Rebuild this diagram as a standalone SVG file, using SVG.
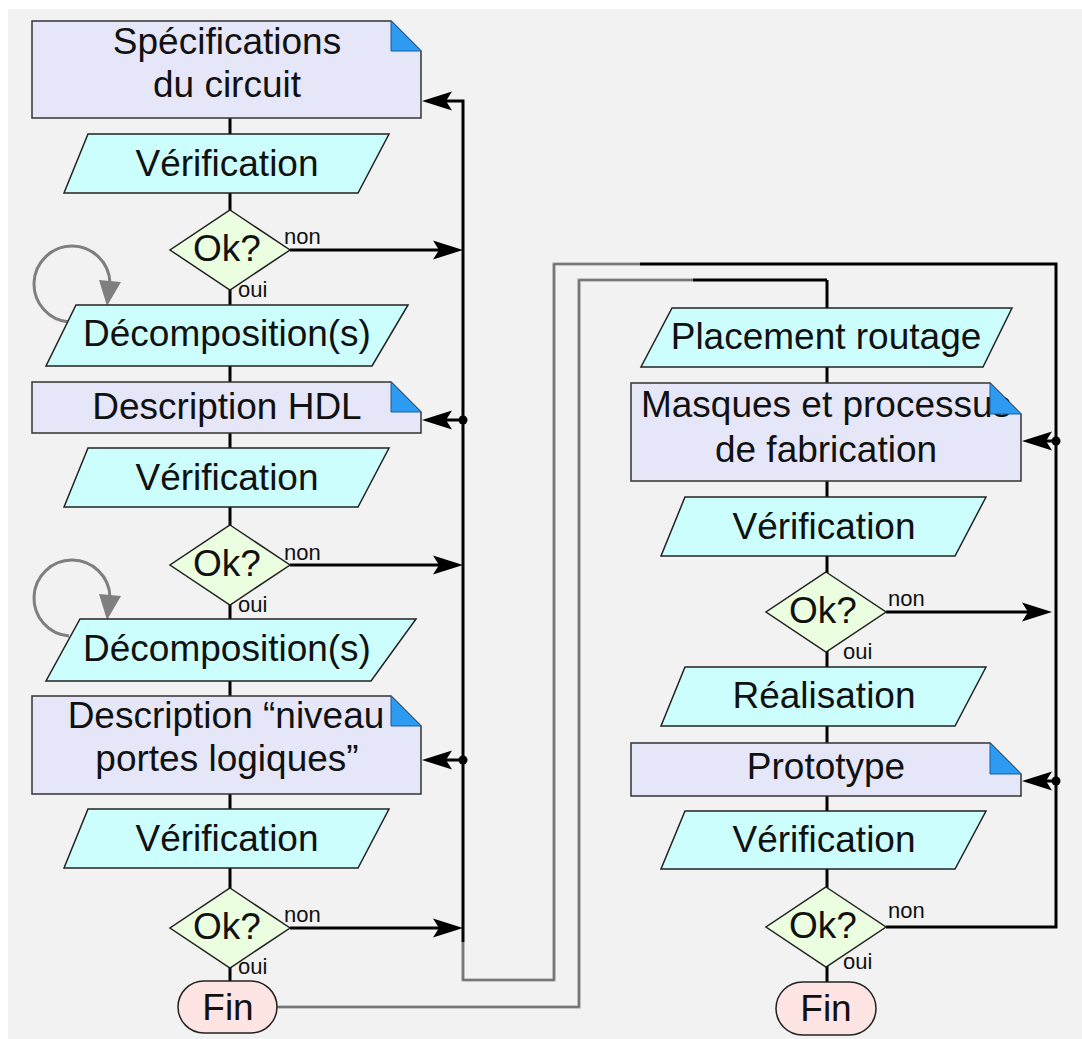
<svg xmlns="http://www.w3.org/2000/svg" xmlns:xlink="http://www.w3.org/1999/xlink" width="1082" height="1039" viewBox="0 0 1082 1039">
  <defs>
    <style>
      .doc { fill:#e5e7f9; stroke:#333; stroke-width:1.5; }
      .fold { fill:#2d9bf2; stroke:#1b5d9c; stroke-width:1; }
      .io { fill:#ccfefe; stroke:#222; stroke-width:1.5; }
      .dec { fill:#ebfedf; stroke:#222; stroke-width:1.5; }
      .term { fill:#ffe4e4; stroke:#222; stroke-width:1.5; }
      .t { font-family:"Liberation Sans", Arial, sans-serif; font-size:37px; text-anchor:middle; fill:#111; }
      .s { font-family:"Liberation Sans", Arial, sans-serif; font-size:22px; fill:#111; }
      .wire { fill:none; stroke:#000; stroke-width:3; }
      .dbl-o { fill:none; stroke:#9a9a9a; stroke-width:3.2; }
      .dbl-i { fill:none; stroke:#555; stroke-width:1; }
      .loop { fill:none; stroke:#7f7f7f; stroke-width:3; }
      .ah { fill:#000; }
      .dot { fill:#000; }
    </style>
    <path id="ah" class="ah" d="M0,0 L-30,-9.5 L-24,0 L-30,9.5 Z"/>
  </defs>

  <!-- canvas -->
  <rect x="8" y="9" width="1074" height="1030" fill="#f2f2f2"/>

  <!-- connectors -->
  <g id="connectors">
    <!-- main spines -->
    <path class="wire" d="M230,118 V981"/>
    <path class="wire" d="M827,280 V982"/>

    <!-- left feedback bus -->
    <path class="wire" d="M463,942 V101 H440"/>
    <use href="#ah" transform="translate(422,101) rotate(180)"/>
    <path class="wire" d="M290,250 H440"/>
    <use href="#ah" transform="translate(463,250)"/>
    <path class="wire" d="M290,565 H440"/>
    <use href="#ah" transform="translate(463,565)"/>
    <path class="wire" d="M290,928 H440"/>
    <use href="#ah" transform="translate(463,928)"/>
    <path class="wire" d="M463,420 H444"/>
    <use href="#ah" transform="translate(422,420) rotate(180)"/>
    <circle class="dot" cx="463" cy="420" r="4.5"/>
    <path class="wire" d="M463,760 H444"/>
    <use href="#ah" transform="translate(422,760) rotate(180)"/>
    <circle class="dot" cx="463" cy="760" r="4.5"/>

    <!-- crossover links (double lines) -->
    <path class="dbl-o" d="M463,942 V980 H554 V264 H640"/>
    <path class="dbl-i" d="M463,942 V980 H554 V264 H640"/>
    <path class="dbl-o" d="M277,1007 H579 V280 H693"/>
    <path class="dbl-i" d="M277,1007 H579 V280 H693"/>
    <path class="wire" d="M640,264 H1056 V927 H886"/>
    <path class="wire" d="M693,280 H827"/>

    <!-- right feedback bus -->
    <path class="wire" d="M886,612 H1030"/>
    <use href="#ah" transform="translate(1052,612)"/>
    <path class="wire" d="M1056,441 H1044"/>
    <use href="#ah" transform="translate(1022,441) rotate(180)"/>
    <circle class="dot" cx="1056" cy="441" r="4.5"/>
    <path class="wire" d="M1056,781 H1044"/>
    <use href="#ah" transform="translate(1022,781) rotate(180)"/>
    <circle class="dot" cx="1056" cy="781" r="4.5"/>

    <!-- refinement loops -->
    <path class="loop" d="M69,322 A38,38 0 1 1 110,283"/>
    <path fill="#7f7f7f" d="M99,280 L121,282 L107,306 Z"/>
    <path class="loop" d="M69,636 A38,38 0 1 1 110,597"/>
    <path fill="#7f7f7f" d="M99,594 L121,596 L107,620 Z"/>
  </g>

  <!-- left column -->
  <g id="spec">
    <path class="doc" d="M32,21 H391 L421,51 V118 H32 Z"/>
    <text class="t" x="227" y="54">Spécifications</text>
    <text class="t" x="227" y="97">du circuit</text>
    <path class="fold" d="M391,21 L421,51 H391 Z"/>
  </g>
  <g id="verif1">
    <path class="io" d="M88,134 H389 L358,193 H64 Z"/>
    <text class="t" x="227" y="176">Vérification</text>
  </g>
  <g id="ok1">
    <path class="dec" d="M230,210 L290,250 L230,290 L170,250 Z"/>
    <text class="t" x="227" y="261">Ok?</text>
    <text class="s" x="284" y="244">non</text>
    <text class="s" x="238" y="297">oui</text>
  </g>
  <g id="decomp1">
    <path class="io" d="M76,305 H408 L372,366 H46 Z"/>
    <text class="t" x="227" y="346">Décomposition(s)</text>
  </g>
  <g id="hdl">
    <path class="doc" d="M32,382 H391 L421,412 V433 H32 Z"/>
    <text class="t" x="227" y="419">Description HDL</text>
    <path class="fold" d="M391,382 L421,412 H391 Z"/>
  </g>
  <g id="verif2">
    <path class="io" d="M88,448 H389 L358,507 H64 Z"/>
    <text class="t" x="227" y="490">Vérification</text>
  </g>
  <g id="ok2">
    <path class="dec" d="M230,525 L290,565 L230,605 L170,565 Z"/>
    <text class="t" x="227" y="576">Ok?</text>
    <text class="s" x="284" y="560">non</text>
    <text class="s" x="238" y="612">oui</text>
  </g>
  <g id="decomp2">
    <path class="io" d="M80,619 H416 L371,681 H46 Z"/>
    <text class="t" x="227" y="661">Décomposition(s)</text>
  </g>
  <g id="gates">
    <path class="doc" d="M32,696 H391 L421,726 V794 H32 Z"/>
    <text class="t" x="226" y="728">Description “niveau</text>
    <text class="t" x="227" y="771">portes logiques”</text>
    <path class="fold" d="M391,696 L421,726 H391 Z"/>
  </g>
  <g id="verif3">
    <path class="io" d="M88,809 H389 L358,868 H64 Z"/>
    <text class="t" x="227" y="851">Vérification</text>
  </g>
  <g id="ok3">
    <path class="dec" d="M230,888 L290,928 L230,968 L170,928 Z"/>
    <text class="t" x="227" y="939">Ok?</text>
    <text class="s" x="284" y="922">non</text>
    <text class="s" x="238" y="974">oui</text>
  </g>
  <g id="fin1">
    <rect class="term" x="178" y="981" width="99" height="52" rx="26"/>
    <text class="t" x="228" y="1020">Fin</text>
  </g>

  <!-- right column -->
  <g id="placement">
    <path class="io" d="M672,308 H1012 L983,367 H641 Z"/>
    <text class="t" x="826" y="349">Placement routage</text>
  </g>
  <g id="masques">
    <path class="doc" d="M631,383 H990 L1021,414 V481 H631 Z"/>
    <text class="t" x="826" y="417">Masques et processus</text>
    <text class="t" x="826" y="462">de fabrication</text>
    <path class="fold" d="M990,383 L1021,414 H990 Z"/>
  </g>
  <g id="verif4">
    <path class="io" d="M685,497 H986 L955,556 H661 Z"/>
    <text class="t" x="824" y="539">Vérification</text>
  </g>
  <g id="ok4">
    <path class="dec" d="M826,572 L886,612 L826,652 L766,612 Z"/>
    <text class="t" x="823" y="623">Ok?</text>
    <text class="s" x="888" y="606">non</text>
    <text class="s" x="843" y="659">oui</text>
  </g>
  <g id="realisation">
    <path class="io" d="M685,667 H986 L955,726 H661 Z"/>
    <text class="t" x="824" y="708">Réalisation</text>
  </g>
  <g id="prototype">
    <path class="doc" d="M631,743 H990 L1021,774 V796 H631 Z"/>
    <text class="t" x="826" y="779">Prototype</text>
    <path class="fold" d="M990,743 L1021,774 H990 Z"/>
  </g>
  <g id="verif5">
    <path class="io" d="M685,811 H986 L955,869 H661 Z"/>
    <text class="t" x="824" y="852">Vérification</text>
  </g>
  <g id="ok5">
    <path class="dec" d="M826,887 L886,927 L826,967 L766,927 Z"/>
    <text class="t" x="823" y="938">Ok?</text>
    <text class="s" x="888" y="918">non</text>
    <text class="s" x="843" y="969">oui</text>
  </g>
  <g id="fin2">
    <rect class="term" x="776" y="982" width="100" height="53" rx="26.5"/>
    <text class="t" x="826" y="1021">Fin</text>
  </g>
</svg>
